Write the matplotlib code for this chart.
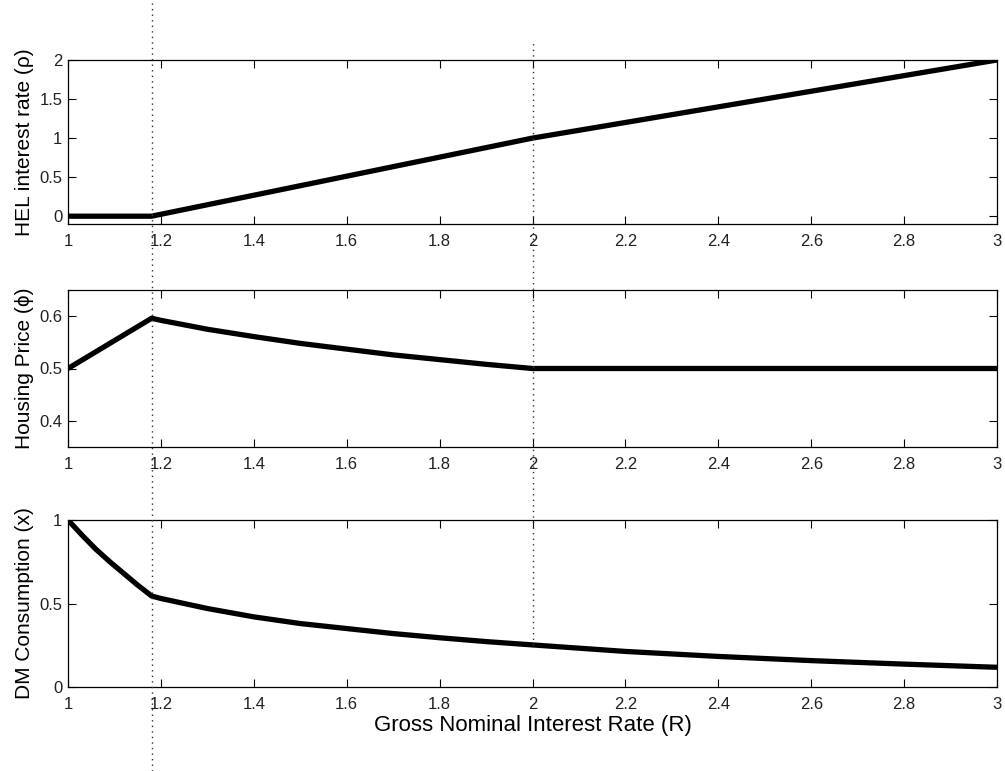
import matplotlib
matplotlib.use("Agg")
import matplotlib.pyplot as plt
from matplotlib.lines import Line2D

plt.rcParams["font.family"] = ["Liberation Sans", "DejaVu Sans"]

# gross nominal interest rate grid
R_hel = [1.0, 1.18, 2.0, 3.0]
hel_rate = [0.0, 0.0, 1.0, 2.0]

R_price = [1.0, 1.18, 1.2, 1.3, 1.4, 1.5, 1.6, 1.7, 1.8, 1.9, 2.0, 2.5, 3.0]
house_price = [0.5, 0.596, 0.592, 0.575, 0.561, 0.548, 0.537, 0.526, 0.517, 0.508, 0.5, 0.5, 0.5]

R_dm = [1.0, 1.03, 1.06, 1.09, 1.12, 1.15, 1.18, 1.2, 1.3, 1.4, 1.5, 1.6, 1.7, 1.8,
        1.9, 2.0, 2.2, 2.4, 2.6, 2.8, 3.0]
dm_cons = [1.0, 0.91, 0.825, 0.75, 0.68, 0.61, 0.545, 0.53, 0.47, 0.42, 0.38, 0.35,
           0.32, 0.295, 0.272, 0.252, 0.213, 0.183, 0.158, 0.137, 0.118]

kink1 = 1.18
kink2 = 2.0

W, H = 1005, 771
fig = plt.figure(figsize=(W / 100, H / 100), dpi=100)

def px_axes(left, top, right, bottom):
    return fig.add_axes([left / W, 1 - bottom / H, (right - left) / W, (bottom - top) / H])

ax1 = px_axes(68, 60, 997, 224)
ax2 = px_axes(68, 290, 997, 447)
ax3 = px_axes(68, 520, 997, 687)

lw = 3.8
ax1.plot(R_hel, hel_rate, color="black", lw=lw, solid_capstyle="butt")
ax2.plot(R_price, house_price, color="black", lw=lw, solid_capstyle="butt")
ax3.plot(R_dm, dm_cons, color="black", lw=lw, solid_capstyle="butt")

ax1.set_ylim(-0.1, 2)
ax1.set_yticks([0, 0.5, 1, 1.5, 2])
ax1.set_yticklabels(["0", "0.5", "1", "1.5", "2"])
ax2.set_ylim(0.35, 0.65)
ax2.set_yticks([0.4, 0.5, 0.6])
ax3.set_ylim(0, 1)
ax3.set_yticks([0, 0.5, 1])
ax3.set_yticklabels(["0", "0.5", "1"])

xt = [1, 1.2, 1.4, 1.6, 1.8, 2, 2.2, 2.4, 2.6, 2.8, 3]
xtl = ["1", "1.2", "1.4", "1.6", "1.8", "2", "2.2", "2.4", "2.6", "2.8", "3"]
for ax in (ax1, ax2, ax3):
    ax.set_xlim(1, 3)
    ax.set_xticks(xt)
    ax.set_xticklabels(xtl)
    ax.tick_params(direction="in", top=True, right=True, length=6, width=0.8,
                   labelsize=12, colors="black", labelcolor="#222222")
    ax.tick_params(axis="x", pad=7)
    ax.tick_params(axis="y", pad=4)
    for sp in ax.spines.values():
        sp.set_linewidth(0.9)

ylab_x = (24 - 68) / 929
ax1.set_ylabel("HEL interest rate (\u03c1)", fontsize=15)
ax2.set_ylabel("Housing Price (\u03d5)", fontsize=15)
ax3.set_ylabel("DM Consumption (x)", fontsize=15)
for ax in (ax1, ax2, ax3):
    ax.yaxis.set_label_coords(ylab_x, 0.5)
    ax.yaxis.label.set_va("center")
ax3.set_xlabel("Gross Nominal Interest Rate (R)", fontsize=16)
ax3.xaxis.set_label_coords(0.5, (687 - 726) / 167)
ax3.xaxis.label.set_va("center")

# vertical dotted guides drawn in figure space
to_fig = fig.transFigure.inverted()
xa = to_fig.transform(ax3.transData.transform((kink1, 0)))[0]
fig.add_artist(Line2D([xa, xa], [0, 1], transform=fig.transFigure,
                      color="#333333", lw=1.0, ls=(0, (1, 3))))
xb, yb = to_fig.transform(ax3.transData.transform((kink2, 0.252)))
fig.add_artist(Line2D([xb, xb], [yb, 1 - 43 / H], transform=fig.transFigure,
                      color="#333333", lw=1.0, ls=(0, (1, 3))))

fig.savefig("out.png", dpi=100, facecolor="white")
